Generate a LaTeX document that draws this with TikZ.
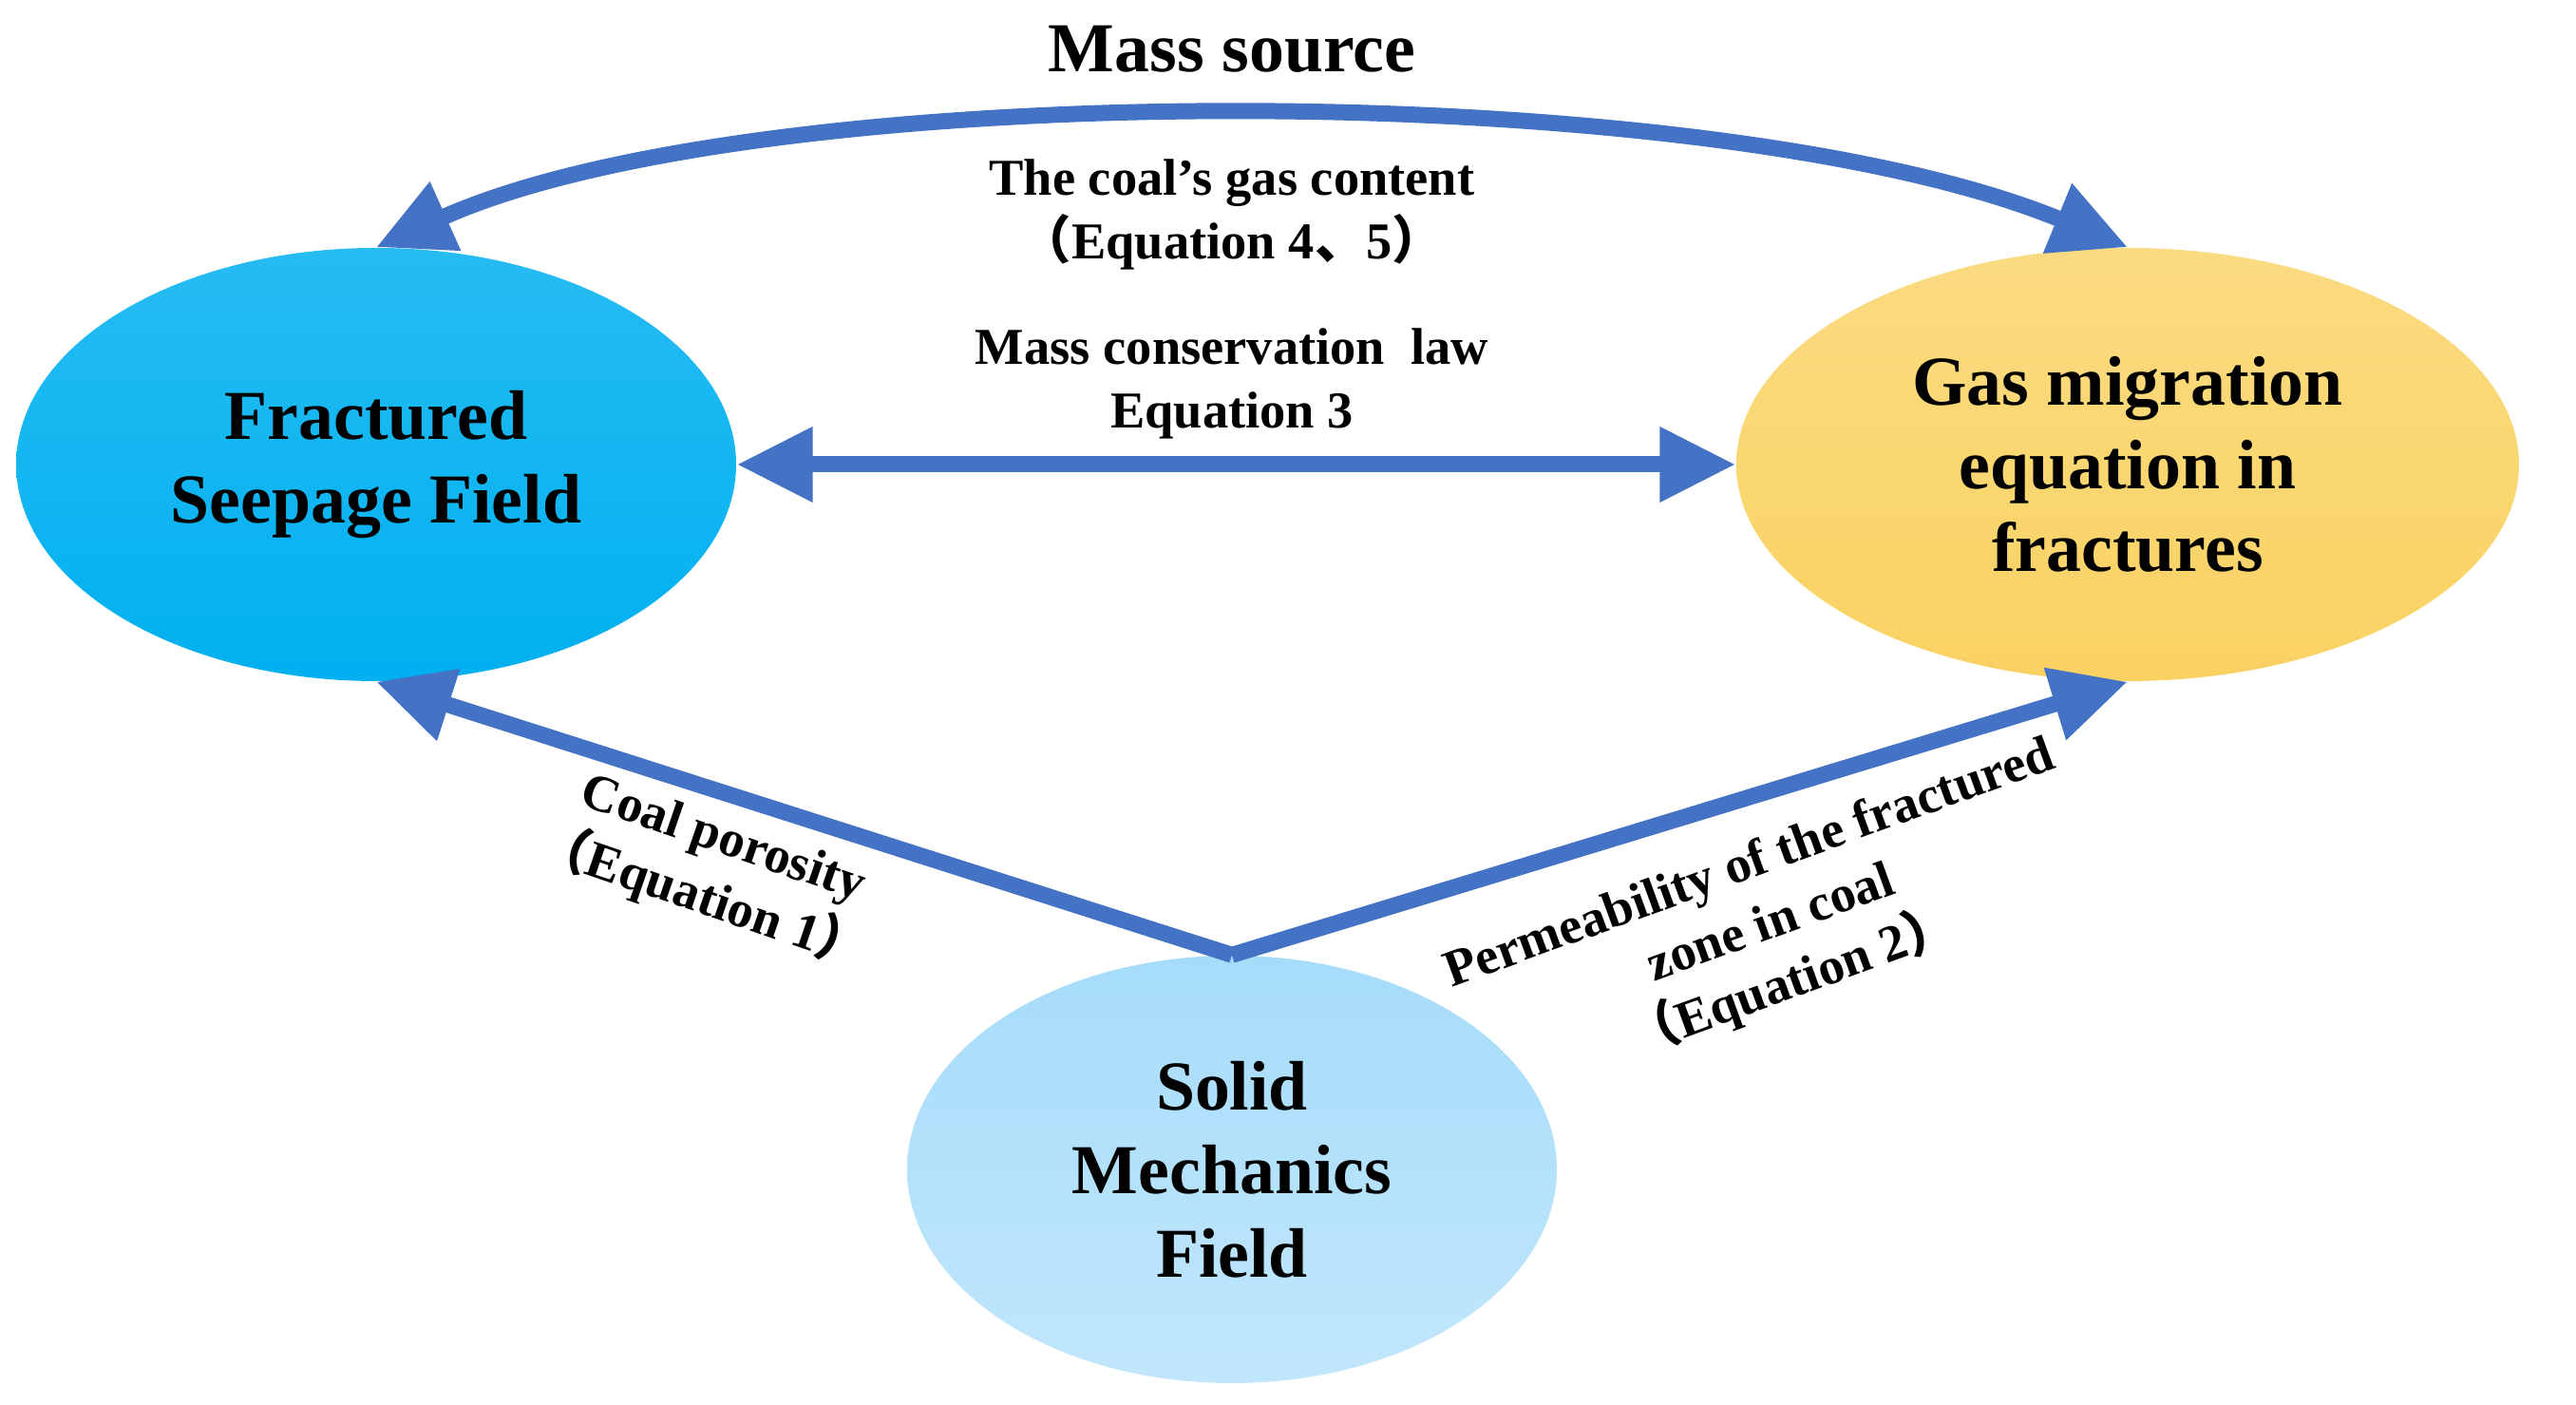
\documentclass[tikz,border=0pt]{standalone}
\usepackage{fontspec}
\setmainfont{Liberation Serif}
\newfontfamily\cjk{Noto Sans CJK SC}
\usetikzlibrary{positioning, shapes.geometric}
\usetikzlibrary {arrows.meta}
\definecolor{fieldblue}{HTML}{00B0F0}
\definecolor{gasyellow}{HTML}{FAD262}
\definecolor{solidblue}{HTML}{A6DCFA}
\definecolor{linkblue}{HTML}{4472C4}

\begin{document}
\begin{tikzpicture}[
    field/.style={ellipse, align=center, font=\fontsize{21}{25}\selectfont\bfseries, inner sep=0pt},
    link/.style={draw=linkblue, line width=0.17cm, -{Triangle[length=0.8cm,width=0.75cm]}},
    note/.style={align=center, font=\fontsize{15.5}{19}\selectfont\bfseries}]
        \useasboundingbox (0,0) rectangle (27.12,14.79);
        \node[field, minimum width=7.58cm, minimum height=4.56cm, top color=fieldblue!85!white, bottom color=fieldblue] (seepage) at (3.96,9.90) {Fractured\\Seepage Field};
        \node[field, minimum width=8.24cm, minimum height=4.56cm, top color=gasyellow!80!white, bottom color=gasyellow] (gas) at (22.40,9.90) {Gas migration\\equation in\\fractures};
        \node[field, minimum width=6.84cm, minimum height=4.50cm, top color=solidblue, bottom color=solidblue!70!white] (solid) at (12.97,2.48) {Solid\\Mechanics\\Field};

        \draw[link, {Triangle[length=0.8cm,width=0.75cm]}-{Triangle[length=0.8cm,width=0.75cm]}] (seepage.north) .. controls (8,14.0) and (18,14.0) .. (gas.north);
        \draw[link, {Triangle[length=0.8cm,width=0.75cm]}-{Triangle[length=0.8cm,width=0.75cm]}] (seepage.east) -- (gas.west);
        \draw[link] (solid.north) -- (seepage.south);
        \draw[link] (solid.north) -- (gas.south);

        \node[note, font=\fontsize{21}{25}\selectfont\bfseries] (masssrc) at (12.97,14.27) {Mass source};
        \node[note] (content) at (12.97,12.53) {The coal's gas content\\{\cjk （}Equation 4{\cjk 、}5{\cjk ）}};
        \node[note] (conserv) at (12.97,10.75) {Mass conservation\ \ law\\Equation 3};
        \node[note, rotate=-19] (porosity) at (7.50,5.62) {Coal porosity\\{\cjk （}Equation 1{\cjk ）}};
        \node[note, rotate=20] (perm) at (18.65,5.05) {Permeability of the fractured\\zone in coal\\{\cjk （}Equation 2{\cjk ）}};
\end{tikzpicture}
\end{document}
